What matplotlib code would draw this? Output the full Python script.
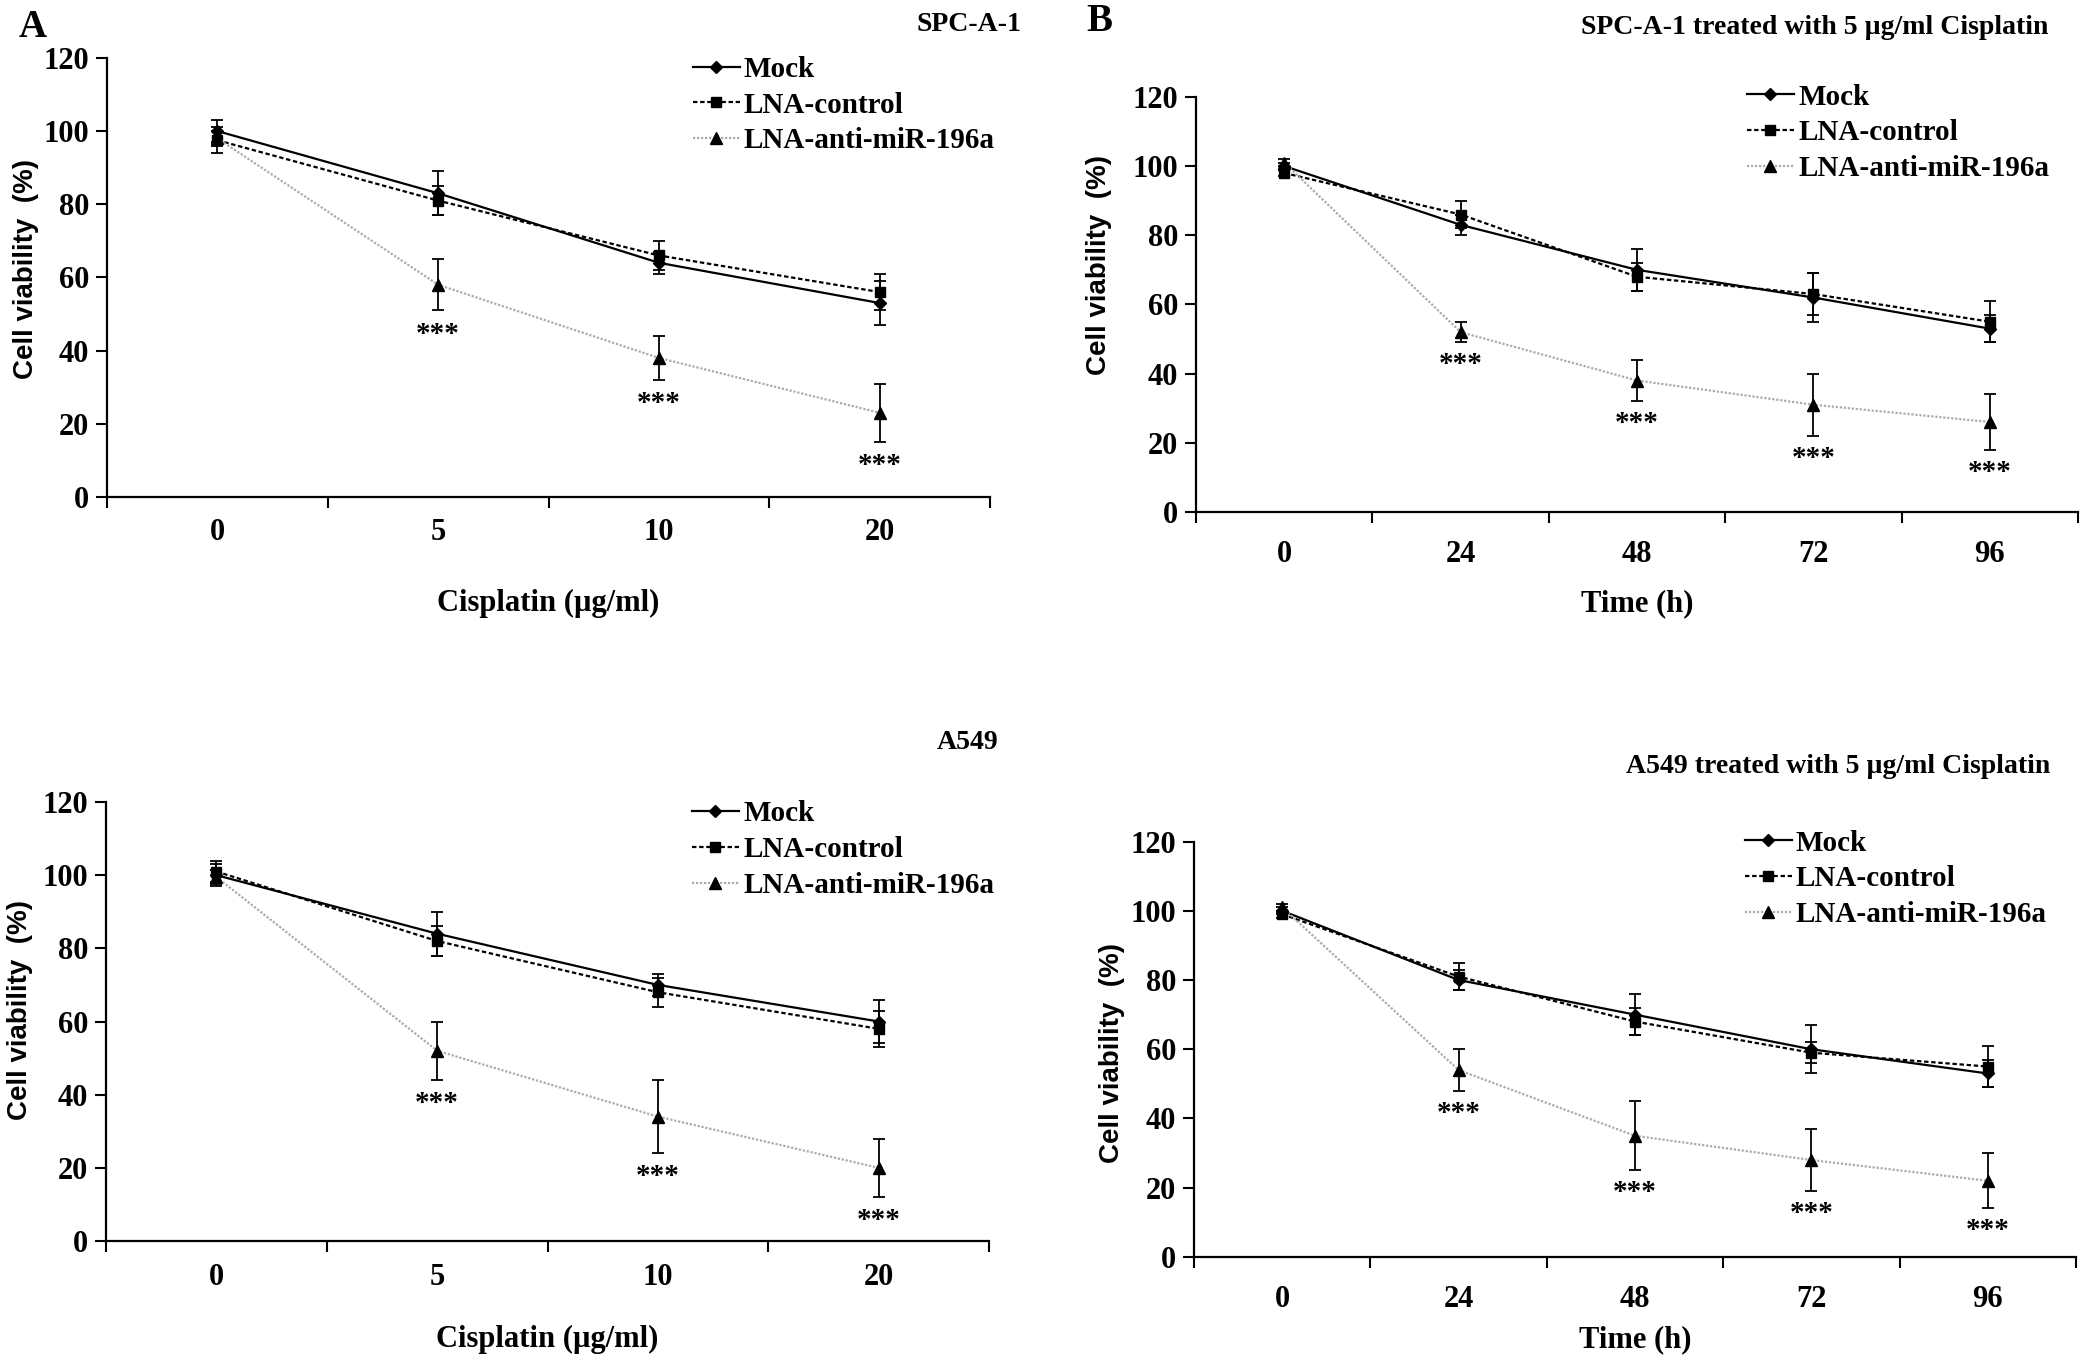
import matplotlib
matplotlib.use("Agg")
import matplotlib.pyplot as plt
from matplotlib.ticker import FixedLocator

# x categories
dose = ["0", "5", "10", "20"]
time_h = ["0", "24", "48", "72", "96"]

series_names = ["Mock", "LNA-control", "LNA-anti-miR-196a"]

# SPC-A-1, cisplatin dose
spc_dose_mock = [100, 83, 64, 53]
spc_dose_mock_err = [3, 6, 3, 6]
spc_dose_ctrl = [97.5, 81, 66, 56]
spc_dose_ctrl_err = [3.5, 4, 4, 5]
spc_dose_anti = [98, 58, 38, 23]
spc_dose_anti_err = [2, 7, 6, 8]

# SPC-A-1, time course
spc_time_mock = [100, 83, 70, 62, 53]
spc_time_mock_err = [1, 3, 6, 7, 4]
spc_time_ctrl = [98, 86, 68, 63, 55]
spc_time_ctrl_err = [1, 4, 4, 6, 6]
spc_time_anti = [101, 52, 38, 31, 26]
spc_time_anti_err = [1, 3, 6, 9, 8]

# A549, cisplatin dose
a549_dose_mock = [100, 84, 70, 60]
a549_dose_mock_err = [3, 6, 3, 6]
a549_dose_ctrl = [101, 82, 68, 58]
a549_dose_ctrl_err = [3, 4, 4, 5]
a549_dose_anti = [99.5, 52, 34, 20]
a549_dose_anti_err = [2, 8, 10, 8]

# A549, time course
a549_time_mock = [100, 80, 70, 60, 53]
a549_time_mock_err = [1, 3, 6, 7, 4]
a549_time_ctrl = [99, 81, 68, 59, 55]
a549_time_ctrl_err = [1, 4, 4, 3, 6]
a549_time_anti = [101, 54, 35, 28, 22]
a549_time_anti_err = [1, 6, 10, 9, 8]

SERIF = "Liberation Serif"
SANS = "Liberation Sans"

styles = [
    dict(color="black", linestyle="-", marker="D", markersize=6),
    dict(color="black", linestyle=(0, (2.0, 1.2)), marker="s", markersize=7),
    dict(color="#ababab", linestyle=(0, (1.0, 0.8)), marker="^", markersize=8),
]

fig = plt.figure(figsize=(20.91, 13.63), dpi=100)


def panel(rect, cats, vals, errs, xlabel, xlab_y, ylab_x, ylab_y, leg_xy, xpad):
    ax = fig.add_axes(rect)
    x = list(range(len(cats)))
    for v, e, st in zip(vals, errs, styles):
        ax.errorbar(x, v, yerr=e, fmt="none", ecolor="black", elinewidth=1.3,
                    capsize=4, capthick=1.3, zorder=2)
    for name, v, st in zip(series_names, vals, styles):
        ax.plot(x, v, label=name, lw=1.6, markerfacecolor="black",
                markeredgecolor="black", zorder=3, **st)
    # significance stars under the anti-miR points
    anti, anti_err = vals[2], errs[2]
    for i in x[1:]:
        ax.text(i, anti[i] - anti_err[i] - 6.5, "***", ha="center", va="center",
                fontsize=21, fontfamily=SERIF, fontweight="bold")
    ax.set_xlim(-0.5, len(cats) - 0.5)
    ax.set_ylim(0, 120)
    ax.set_yticks(range(0, 121, 20))
    ax.set_xticks(x)
    ax.set_xticklabels(cats)
    ax.xaxis.set_minor_locator(FixedLocator([i - 0.5 for i in range(len(cats) + 1)]))
    ax.tick_params(axis="x", which="major", length=0, pad=xpad, labelsize=22)
    ax.tick_params(axis="x", which="minor", length=8, width=1.5, direction="out")
    ax.tick_params(axis="y", length=8, width=1.5, direction="out", pad=5, labelsize=22)
    for lab in ax.get_xticklabels() + ax.get_yticklabels():
        lab.set_fontfamily(SERIF)
        lab.set_fontweight("bold")
    for s in ["top", "right"]:
        ax.spines[s].set_visible(False)
    for s in ["left", "bottom"]:
        ax.spines[s].set_linewidth(1.6)
    ax.set_xlabel(xlabel, fontsize=22, fontfamily=SERIF, fontweight="bold")
    ax.xaxis.set_label_coords(0.5, xlab_y)
    ax.set_ylabel("Cell viability  (%)", fontsize=20, fontfamily=SANS, fontweight="bold")
    ax.yaxis.set_label_coords(ylab_x, ylab_y)
    ax.legend(loc="upper left", bbox_to_anchor=leg_xy, bbox_transform=fig.transFigure,
              frameon=False, borderpad=0, borderaxespad=0, handlelength=1.6,
              handletextpad=0.15, labelspacing=0.3,
              prop=dict(family=SERIF, weight="bold", size=21))
    return ax


panel([0.0512, 0.6354, 0.4223, 0.3221], dose,
      [spc_dose_mock, spc_dose_ctrl, spc_dose_anti],
      [spc_dose_mock_err, spc_dose_ctrl_err, spc_dose_anti_err],
      "Cisplatin (µg/ml)", -0.21, -0.077, 0.52, (0.3314, 0.959), 15)
panel([0.5720, 0.6244, 0.4218, 0.3045], time_h,
      [spc_time_mock, spc_time_ctrl, spc_time_anti],
      [spc_time_mock_err, spc_time_ctrl_err, spc_time_anti_err],
      "Time (h)", -0.186, -0.095, 0.596, (0.8355, 0.9386), 20)
panel([0.0507, 0.0895, 0.4223, 0.3221], dose,
      [a549_dose_mock, a549_dose_ctrl, a549_dose_anti],
      [a549_dose_mock_err, a549_dose_ctrl_err, a549_dose_anti_err],
      "Cisplatin (µg/ml)", -0.191, -0.083, 0.526, (0.331, 0.4128), 16)
panel([0.5710, 0.0778, 0.4218, 0.3048], time_h,
      [a549_time_mock, a549_time_ctrl, a549_time_anti],
      [a549_time_mock_err, a549_time_ctrl_err, a549_time_anti_err],
      "Time (h)", -0.164, -0.078, 0.49, (0.8345, 0.3914), 20)

tkw = dict(fontfamily=SERIF, fontweight="bold", fontsize=20, ha="right", va="center")
fig.text(0.4883, 0.9817, "SPC-A-1", **tkw)
fig.text(0.4773, 0.4556, "A549", **tkw)
fig.text(0.9794, 0.9795, "SPC-A-1 treated with 5 µg/ml Cisplatin", **tkw)
fig.text(0.9804, 0.4380, "A549 treated with 5 µg/ml Cisplatin", **tkw)

fig.text(0.0158, 0.9795, "A", fontfamily=SERIF, fontweight="bold", fontsize=28,
         ha="center", va="center")
fig.text(0.5256, 0.9839, "B", fontfamily=SERIF, fontweight="bold", fontsize=28,
         ha="center", va="center")

fig.savefig("out.png", dpi=100)
